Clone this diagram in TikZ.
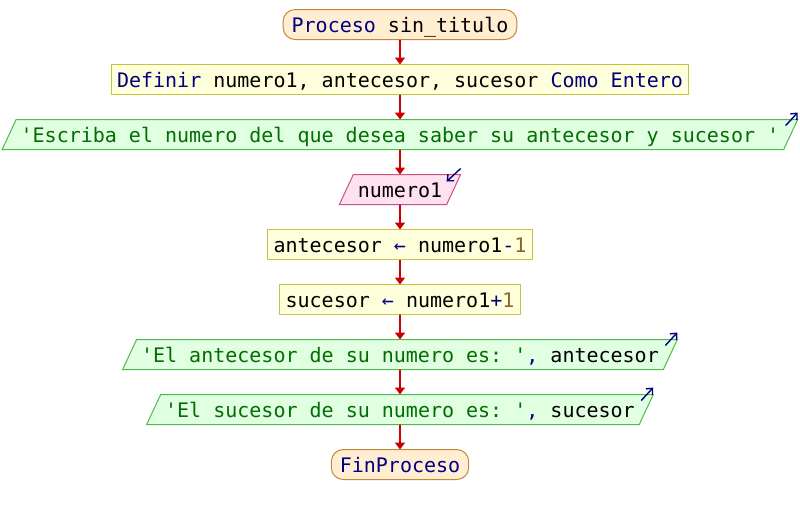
\documentclass[tikz,border=0pt]{standalone}
\usepackage{fontspec}
\setmonofont{DejaVu Sans Mono}
\usetikzlibrary{arrows.meta,positioning,shapes.geometric}
\definecolor{kwcol}{RGB}{0,0,128}
\definecolor{cadcol}{RGB}{0,110,0}
\definecolor{nrocol}{RGB}{140,100,40}
\definecolor{flecha}{RGB}{204,0,0}
\definecolor{procfill}{RGB}{255,238,210}
\definecolor{procdraw}{RGB}{195,135,55}
\definecolor{asigfill}{RGB}{255,255,220}
\definecolor{asigdraw}{RGB}{195,195,70}
\definecolor{escrfill}{RGB}{225,255,225}
\definecolor{escrdraw}{RGB}{80,185,80}
\definecolor{leerfill}{RGB}{255,225,240}
\definecolor{leerdraw}{RGB}{200,80,130}
\newcommand{\kw}[1]{\textcolor{kwcol}{#1}}
\newcommand{\cad}[1]{\textcolor{cadcol}{#1}}
\newcommand{\nro}[1]{\textcolor{nrocol}{#1}}

\begin{document}
\begin{tikzpicture}[x=1pt,y=1pt,node distance=25pt,
every node/.style={font=\ttfamily\fontsize{20}{24}\selectfont,text height=17pt,text depth=2pt,inner ysep=5.5pt,outer sep=0pt,line width=1pt},
flujo/.style={draw=flecha,line width=1.6pt,-{Triangle[length=7pt,width=10pt]}},
es/.style={draw=kwcol,line width=1.4pt,-{Straight Barb[length=5pt,width=9pt]}}]
\tikzstyle{proc}=[rectangle,rounded corners=12pt,draw=procdraw,fill=procfill,inner xsep=8.5pt]
\tikzstyle{asig}=[rectangle,draw=asigdraw,fill=asigfill,inner xsep=6pt]
\tikzstyle{entsal}=[trapezium,trapezium left angle=65,trapezium right angle=115,trapezium stretches=true,inner xsep=4.5pt]
\tikzstyle{escr}=[entsal,draw=escrdraw,fill=escrfill]
\tikzstyle{leer}=[entsal,draw=leerdraw,fill=leerfill]

\useasboundingbox (0,0) rectangle (800,-515);

\node[proc] (inicio) at (400,-24.5) {\kw{Proceso} sin\_titulo};
\node[asig] (definir) [below=of inicio] {\kw{Definir} numero1, antecesor, sucesor \kw{Como Entero}};
\node[escr] (pedir) [below=of definir] {\cad{'Escriba el numero del que desea saber su antecesor y sucesor '}};
\node[leer] (leer) [below=of pedir] {numero1};
\node[asig] (ante) [below=of leer] {antecesor \kw{←} numero1\kw{-}\nro{1}};
\node[asig] (suce) [below=of ante] {sucesor \kw{←} numero1\kw{+}\nro{1}};
\node[escr] (mosant) [below=of suce] {\cad{'El antecesor de su numero es: '}\kw{,} antecesor};
\node[escr] (mossuc) [below=of mosant] {\cad{'El sucesor de su numero es: '}\kw{,} sucesor};
\node[proc] (fin) [below=of mossuc] {\kw{FinProceso}};

\draw[flujo] (inicio) -- (definir);
\draw[flujo] (definir) -- (pedir);
\draw[flujo] (pedir) -- (leer);
\draw[flujo] (leer) -- (ante);
\draw[flujo] (ante) -- (suce);
\draw[flujo] (suce) -- (mosant);
\draw[flujo] (mosant) -- (mossuc);
\draw[flujo] (mossuc) -- (fin);

% flechitas de entrada y salida
\draw[es] ([shift={(-12,-6)}]pedir.top right corner) -- ([shift={(0,7)}]pedir.top right corner);
\draw[es] ([shift={(0,6)}]leer.top right corner) -- ([shift={(-14,-7)}]leer.top right corner);
\draw[es] ([shift={(-12,-6)}]mosant.top right corner) -- ([shift={(0,7)}]mosant.top right corner);
\draw[es] ([shift={(-12,-6)}]mossuc.top right corner) -- ([shift={(0,7)}]mossuc.top right corner);
\end{tikzpicture}
\end{document}
